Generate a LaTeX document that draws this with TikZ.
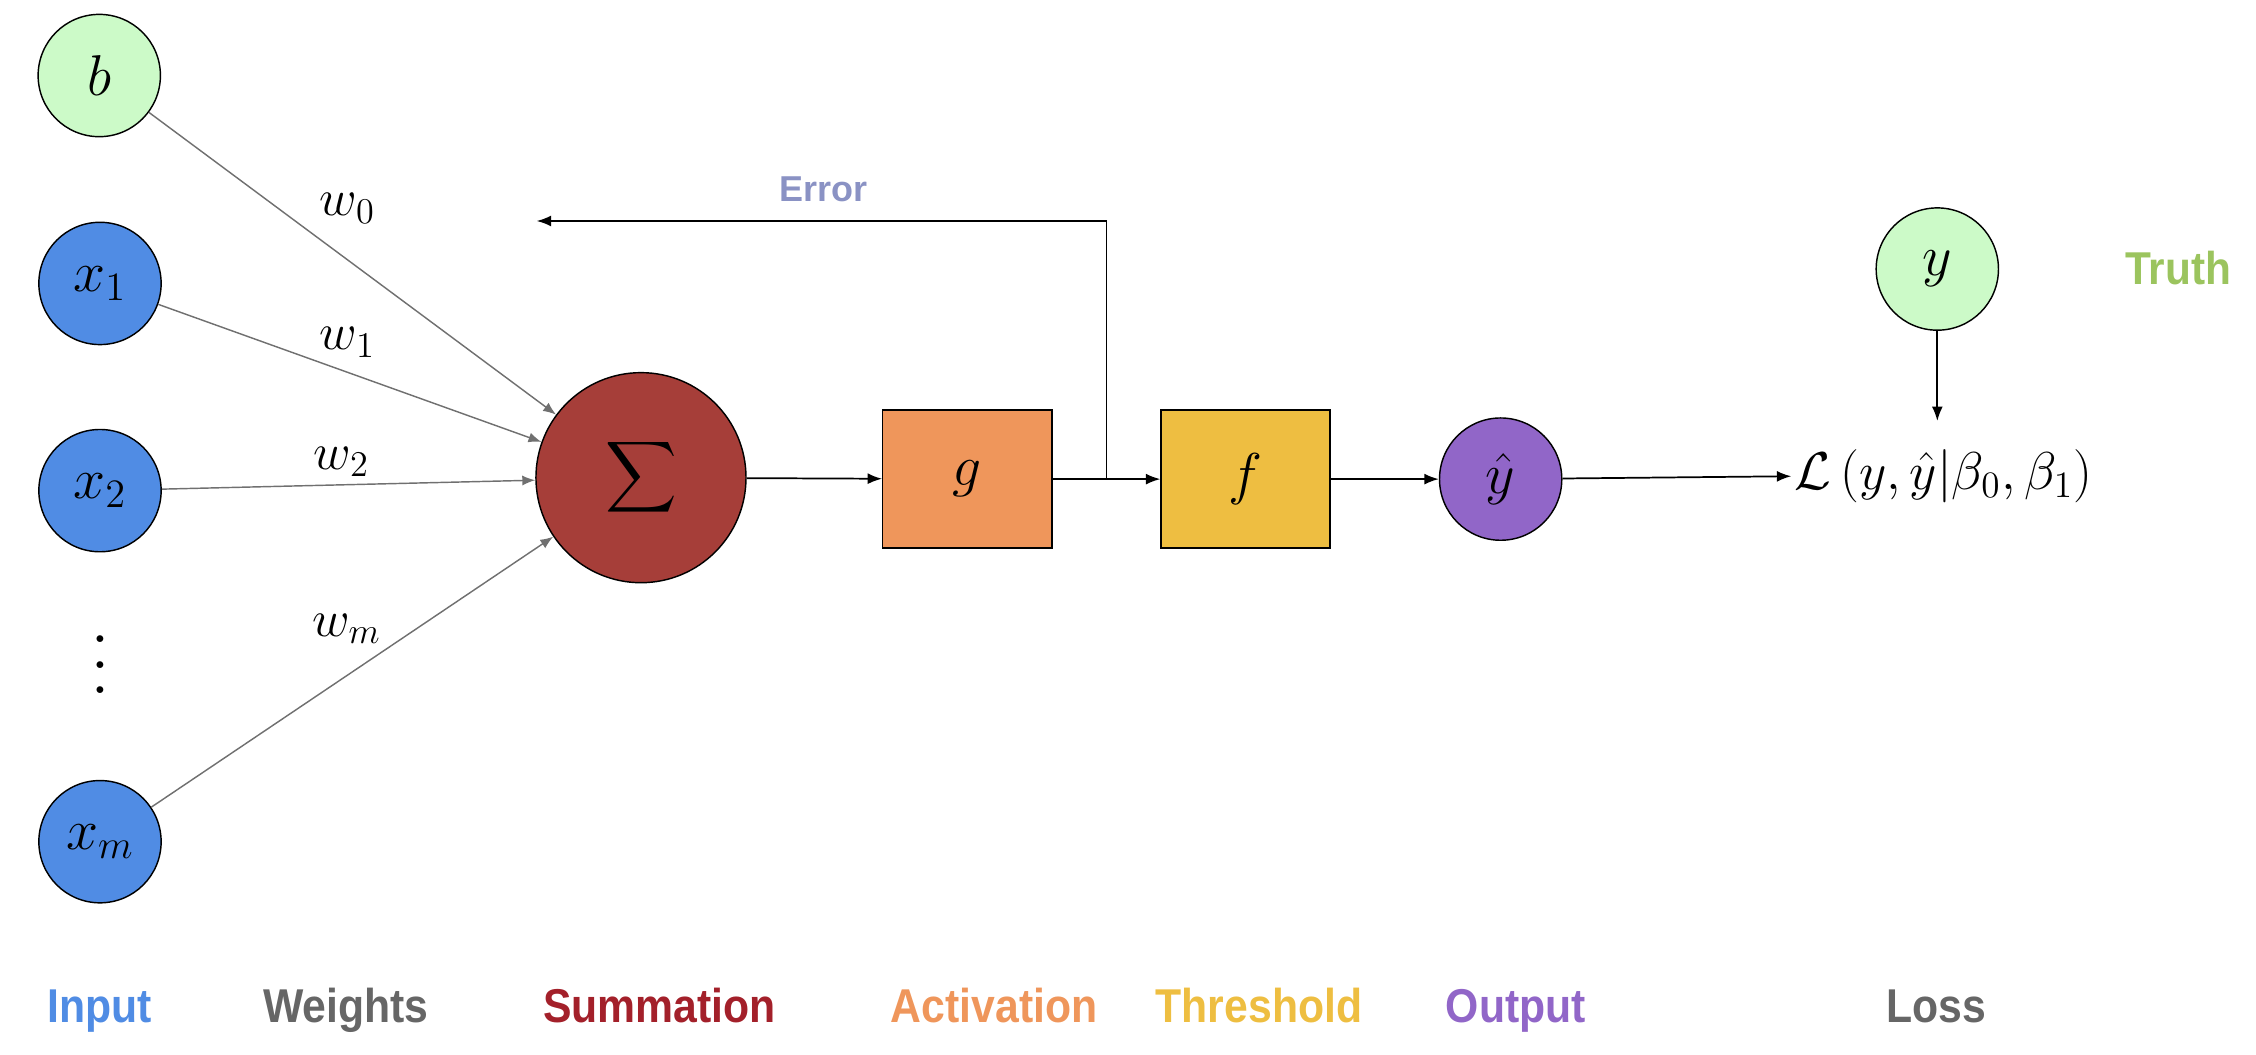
\RequirePackage{fix-cm}
\documentclass[tikz,border=0pt]{standalone}
\usepackage{exscale}
\usepackage{graphicx}
\usepackage{fontspec}
\newfontfamily\labfont[FakeStretch=0.9]{Liberation Sans}
\newfontfamily\errfont{Liberation Sans}
\newfontfamily\truthfont[FakeStretch=0.92]{Liberation Sans}
\usetikzlibrary{arrows.meta}
\definecolor{lightg}{RGB}{204,250,200}
\definecolor{inblue}{RGB}{80,140,228}
\definecolor{sumred}{RGB}{166,62,57}
\definecolor{sumtext}{RGB}{163,32,42}
\definecolor{actor}{RGB}{239,150,91}
\definecolor{thry}{RGB}{238,190,65}
\definecolor{outp}{RGB}{145,102,200}
\definecolor{greyt}{RGB}{102,102,102}
\definecolor{truthg}{RGB}{155,196,94}
\definecolor{errc}{RGB}{138,146,196}
\definecolor{wline}{RGB}{112,112,112}
\newcommand\nodesize{\fontsize{20}{24}\selectfont}
\newcommand\wsize{\fontsize{18}{22}\selectfont}
\begin{document}
\begin{tikzpicture}[x=0.5pt,y=-0.5pt,
  circ/.style={circle, draw=black, line width=0.5pt, minimum size=42.5pt, inner sep=0pt, font=\nodesize},
  boxnode/.style={rectangle, draw=black, line width=0.5pt, minimum width=58.75pt, minimum height=48pt, inner sep=0pt, font=\nodesize},
  wlab/.style={inner sep=0pt, font=\wsize},
  warr/.style={draw=wline, line width=0.5pt, -{Latex[length=4.5pt,width=3.5pt]}},
  arr/.style={draw=black, line width=0.6pt, -{Latex[length=5pt,width=3.8pt]}},
  lab/.style={font=\labfont\bfseries\fontsize{16.5}{18}\selectfont, anchor=base, inner sep=0pt}]
\useasboundingbox (0,0) rectangle (1568,732.6);
% input nodes
\node[circ, fill=lightg] (b) at (69,52.5) {$b$};
\node[circ, fill=inblue] (x1) at (69.5,197) {$x_1$};
\node[circ, fill=inblue] (x2) at (69.5,341) {$x_2$};
\node[inner sep=0pt] (vd) at (69.5,448.6) {\scalebox{2.23}{$\vdots$}};
\node[circ, fill=inblue] (xm) at (69.5,585) {$x_m$};
% summation
\node[circle, draw=black, line width=0.5pt, minimum size=73pt, inner sep=0pt, fill=sumred] (sum) at (445.5,332) {\fontsize{19}{22}\selectfont$\displaystyle\sum$};
% weights
\draw[warr] (b) -- (sum);
\draw[warr] (x1) -- (sum);
\draw[warr] (x2) -- (sum);
\draw[warr] (xm) -- (sum);
\node[wlab] (w0) at (241.5,145) {$w_0$};
\node[wlab] (w1) at (241.5,238) {$w_1$};
\node[wlab] (w2) at (237.5,321) {$w_2$};
\node[wlab] (wm) at (241,437) {$w_m$};
% activation, threshold, output
\node[boxnode, fill=actor] (g) at (672.3,333) {$g$};
\node[boxnode, fill=thry] (f) at (865.7,333) {$f$};
\node[circ, fill=outp] (yhat) at (1043,333) {$\hat{y}$};
\draw[arr] (sum) -- (g);
\draw[arr] (g) -- (f);
\draw[arr] (f) -- (yhat);
% error feedback
\coordinate (jn) at (769,333);
\coordinate (errend) at (373,153.6);
\draw[arr] (jn) |- (errend);
\node[font=\errfont\bfseries\fontsize{12.5}{14}\selectfont, text=errc, anchor=base, inner sep=0pt] (lerr) at (572.5,140) {Error};
% truth and loss
\node[circ, fill=lightg] (ytrue) at (1346.5,187) {$y$};
\node[font=\truthfont\bfseries\fontsize{16}{18}\selectfont, text=truthg, anchor=base, inner sep=0pt] (ltruth) at (1514,198) {Truth};
\node[anchor=west, inner xsep=1pt, inner ysep=9.75pt, font=\fontsize{18.5}{22}\selectfont] (loss) at (1245,331) {$\mathcal{L}\left(y,\hat{y}|\beta_0,\beta_1\right)$};
\draw[arr] (yhat) -- (loss.west);
\draw[arr] (ytrue) -- (ytrue |- loss.north);
% bottom labels
\node[lab, text=inblue] (linput) at (69.5,711) {Input};
\node[lab, text=greyt] (lweights) at (240.5,711) {Weights};
\node[lab, text=sumtext] (lsum) at (458.5,711) {Summation};
\node[lab, text=actor] (lact) at (691,711) {Activation};
\node[lab, text=thry] (lthr) at (875,711) {Threshold};
\node[lab, text=outp] (lout) at (1053.5,711) {Output};
\node[lab, text=greyt] (lloss) at (1346,711) {Loss};
\end{tikzpicture}
\end{document}
